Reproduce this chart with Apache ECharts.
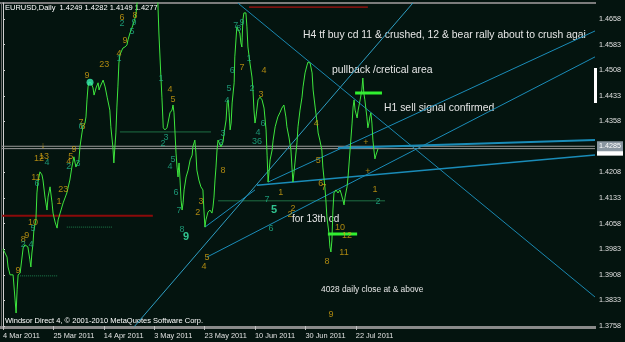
<!DOCTYPE html>
<html><head><meta charset="utf-8">
<script src="https://cdn.jsdelivr.net/npm/echarts@6/dist/echarts.min.js"></script>
<style>html,body{margin:0;padding:0;background:#04140f;}#c{width:625px;height:342px;}</style>
</head><body><div id="c"></div>
<script>
// x = trading-day index counted from 4 Mar 2011, y = EURUSD price
const xTickIdx = [0, 15, 30, 45, 60, 75, 90, 105];
const xTickLabels = ['4 Mar 2011', '25 Mar 2011', '14 Apr 2011', '3 May 2011', '23 May 2011', '10 Jun 2011', '30 Jun 2011', '22 Jul 2011'];
const yTickLabels = ['1.3758', '1.3833', '1.3908', '1.3983', '1.4058', '1.4133', '1.4208', '1.4358', '1.4433', '1.4508', '1.4583', '1.4658'];
const bidPrice = 1.4285;
const askPrice = 1.4278;
const lastIdx = 176.2;

const closeLine = [[0,1.3984],[1.2,1.3960],[1.5,1.3931],[2.1,1.3908],[3.0,1.3908],[3.6,1.3834],[3.9,1.3796],[4.2,1.3864],[4.5,1.3908],[5.1,1.3913],[6.0,1.3987],[6.5,1.3996],[7.4,1.3990],[8.0,1.3952],[8.3,1.3931],[8.6,1.3972],[8.9,1.3996],[9.2,1.4040],[9.8,1.4069],[10.1,1.4148],[10.4,1.4180],[11.0,1.4210],[11.6,1.4201],[11.9,1.4186],[12.5,1.4136],[13.1,1.4098],[13.4,1.4136],[14.0,1.4166],[14.6,1.4119],[14.9,1.4089],[15.5,1.4063],[16.1,1.4045],[16.4,1.4069],[17.0,1.4089],[17.9,1.4119],[19.0,1.4148],[19.9,1.4186],[20.5,1.4224],[21.1,1.4254],[21.7,1.4224],[22.0,1.4224],[22.6,1.4245],[22.9,1.4283],[23.5,1.4324],[23.8,1.4342],[24.4,1.4353],[24.7,1.4371],[25.0,1.4421],[25.3,1.4459],[25.6,1.4473],[26.2,1.4471],[26.8,1.4456],[27.1,1.4435],[27.7,1.4456],[28.3,1.4471],[28.6,1.4450],[28.9,1.4459],[29.8,1.4479],[30.4,1.4459],[31.0,1.4429],[31.3,1.4427],[31.8,1.4391],[32.1,1.4342],[32.7,1.4283],[33.0,1.4236],[33.3,1.4283],[33.6,1.4324],[33.9,1.4400],[34.2,1.4459],[34.5,1.4529],[34.8,1.4553],[35.4,1.4567],[35.7,1.4573],[36.3,1.4576],[36.9,1.4582],[37.2,1.4597],[37.8,1.4617],[38.7,1.4641],[39.3,1.4661],[39.6,1.4676],[39.9,1.4705],[42.3,1.4860],[44.3,1.4930],[45.5,1.4860],[46.1,1.4705],[46.4,1.4617],[47.0,1.4488],[47.3,1.4429],[47.6,1.4362],[47.7,1.4339],[48.2,1.4333],[48.8,1.4339],[49.1,1.4353],[49.7,1.4383],[50.3,1.4391],[50.6,1.4406],[50.9,1.4383],[51.2,1.4324],[51.5,1.4265],[51.8,1.4224],[52.1,1.4195],[52.2,1.4215],[52.4,1.4236],[52.7,1.4186],[53.0,1.4127],[53.3,1.4098],[53.6,1.4119],[53.9,1.4157],[54.5,1.4195],[55.1,1.4215],[55.7,1.4245],[56.3,1.4259],[56.5,1.4283],[57.1,1.4303],[57.4,1.4268],[57.7,1.4215],[58.3,1.4186],[58.9,1.4166],[59.5,1.4157],[59.8,1.4098],[60.1,1.4048],[60.4,1.4069],[61.0,1.4092],[61.3,1.4089],[61.6,1.4098],[62.2,1.4089],[62.5,1.4107],[62.8,1.4136],[63.1,1.4186],[63.4,1.4224],[63.7,1.4274],[64.0,1.4303],[64.3,1.4298],[64.9,1.4283],[65.5,1.4298],[65.8,1.4324],[66.4,1.4362],[66.7,1.4412],[67.0,1.4421],[67.3,1.4383],[67.6,1.4333],[67.9,1.4353],[68.2,1.4412],[68.8,1.4471],[69.0,1.4547],[69.6,1.4635],[69.9,1.4632],[70.5,1.4617],[70.8,1.4588],[71.1,1.4576],[71.2,1.4605],[71.4,1.4655],[71.7,1.4676],[72.3,1.4676],[72.6,1.4635],[72.9,1.4576],[73.5,1.4529],[74.1,1.4488],[74.4,1.4450],[74.7,1.4391],[75.0,1.4353],[75.3,1.4371],[75.9,1.4421],[76.5,1.4429],[77.1,1.4421],[77.7,1.4397],[78.3,1.4333],[78.6,1.4259],[78.9,1.4180],[79.5,1.4245],[80.1,1.4274],[80.4,1.4303],[81.0,1.4342],[81.8,1.4371],[82.4,1.4383],[83.0,1.4397],[83.6,1.4406],[84.2,1.4371],[84.5,1.4342],[85.1,1.4312],[85.7,1.4274],[86.0,1.4224],[86.3,1.4180],[86.6,1.4207],[86.9,1.4236],[87.5,1.4295],[87.8,1.4342],[88.4,1.4391],[89.0,1.4429],[89.3,1.4459],[89.9,1.4500],[90.5,1.4523],[90.8,1.4532],[91.4,1.4529],[92.0,1.4500],[92.3,1.4450],[92.9,1.4400],[93.5,1.4353],[93.8,1.4324],[94.3,1.4303],[94.9,1.4274],[95.2,1.4224],[95.8,1.4166],[96.1,1.4127],[96.4,1.4078],[97.0,1.4031],[97.3,1.3990],[97.6,1.3975],[97.9,1.4010],[98.2,1.4098],[98.5,1.4148],[99.1,1.4157],[99.7,1.4148],[100.3,1.4157],[100.6,1.4148],[101.2,1.4127],[101.5,1.4113],[101.8,1.4136],[102.4,1.4166],[102.7,1.4195],[103.3,1.4274],[103.9,1.4353],[104.2,1.4400],[104.5,1.4421],[104.8,1.4391],[105.4,1.4368],[105.7,1.4391],[106.3,1.4421],[106.8,1.4450],[107.1,1.4485],[107.4,1.4441],[107.7,1.4421],[108.3,1.4371],[108.6,1.4339],[108.9,1.4353],[109.2,1.4371],[109.5,1.4383],[109.8,1.4353],[110.1,1.4303],[110.4,1.4274],[110.7,1.4248],[111.0,1.4259],[111.6,1.4277]];

// sequential count labels [day index, price, text]
const yellowCounts = [[4.5,1.3922,'9'],[6.0,1.4013,'8'],[7.1,1.4022,'9'],[8.9,1.4060,'10'],[9.8,1.4192,'11'],[10.7,1.4248,'12'],[12.2,1.4256,'13'],[11.9,1.4286,'↓'],[16.7,1.4122,'1'],[17.9,1.4157,'23'],[19.6,1.4239,'4'],[20.2,1.4254,'5'],[21.1,1.4274,'9'],[23.2,1.4356,'7'],[23.8,1.4342,'8'],[25.0,1.4491,'9'],[30.1,1.4526,'23'],[34.5,1.4558,'4'],[36.3,1.4594,'9'],[35.4,1.4661,'6'],[39.3,1.4667,'8'],[49.7,1.4450,'4'],[50.6,1.4421,'5'],[58.0,1.4092,'2'],[58.9,1.4122,'3'],[60.7,1.3960,'5'],[59.8,1.3931,'4'],[65.5,1.4215,'8'],[71.1,1.4515,'7'],[77.7,1.4506,'4'],[76.8,1.4438,'3'],[82.7,1.4148,'1'],[86.3,1.4101,'2'],[85.4,1.4084,'2'],[93.2,1.4353,'4'],[93.8,1.4242,'5'],[94.6,1.4177,'6'],[95.5,1.4163,'7'],[100.3,1.4048,'10'],[102.4,1.4022,'12'],[101.5,1.3972,'11'],[96.4,1.3946,'8'],[97.6,1.3793,'9'],[110.7,1.4157,'1'],[108.0,1.4295,'+'],[108.6,1.4210,'+']];
const tealCounts = [[6.0,1.3996,'2'],[8.3,1.3996,'4'],[8.9,1.4045,'5'],[10.1,1.4177,'6'],[13.1,1.4236,'4'],[19.6,1.4227,'2'],[22.3,1.4233,'3'],[23.2,1.4342,'6'],[38.4,1.4620,'5'],[35.4,1.4644,'2'],[39.0,1.4649,'9'],[34.5,1.4541,'1'],[47.0,1.4485,'1'],[48.5,1.4312,'3'],[47.6,1.4292,'2'],[50.6,1.4245,'5'],[49.7,1.4227,'4'],[51.5,1.4148,'6'],[52.4,1.4098,'7'],[53.3,1.4040,'8'],[65.5,1.4321,'3'],[64.9,1.4295,'2'],[66.7,1.4418,'4'],[67.3,1.4453,'5'],[68.2,1.4506,'6'],[69.3,1.4638,'7'],[70.2,1.4629,'8'],[71.1,1.4649,'9'],[73.2,1.4541,'1'],[74.1,1.4453,'2'],[77.4,1.4353,'6'],[75.9,1.4324,'4'],[75.6,1.4298,'36'],[78.6,1.4130,'7'],[79.8,1.4045,'6'],[111.6,1.4122,'2']];
const tealBold = [[54.5,1.4019,'9'],[80.7,1.4098,'5']];
const tealDots = [[25.9,1.4473]];

// trend lines [start, end]
const trendDown = [[69.9,1.4705],[176.2,1.3843]];
const trendSteep = [[38.7,1.3752],[122.0,1.4705]];
const trendC = [[60.7,1.3960],[176.2,1.4547]];
const trendD = [[78.9,1.4180],[176.2,1.4623]];
const trendE = [[75.6,1.4171],[176.2,1.4259]];
const trendF = [[99.7,1.4280],[176.2,1.4303]];
const trendG = [[60.1,1.4048],[75.0,1.4157]];

// horizontal levels
const redLevel = [[-1,1.4081],[44.6,1.4081]];
const redTop = [[73.2,1.4693],[108.6,1.4693]];
const greenLevel1 = [[34.8,1.4327],[61.9,1.4327]];
const greenLevel2 = [[64.0,1.4125],[113.7,1.4125]];
const dotLevel1 = [[19.0,1.4048],[32.4,1.4048]];
const dotLevel2 = [[5.1,1.3905],[16.4,1.3905]];
const brightLevel1 = [[104.8,1.4441],[112.8,1.4441]];
const brightLevel2 = [[96.7,1.4028],[105.4,1.4028]];
const bidLine = [[-1,bidPrice],[lastIdx,bidPrice]];
const askLine = [[-1,askPrice],[lastIdx,askPrice]];

const FONT = '"Liberation Sans", Arial, sans-serif';
function seg(data, color, width, type) {
  return { type: 'line', data: data, symbol: 'none', silent: true, z: 2,
    lineStyle: { color: color, width: width, type: type || 'solid' } };
}
function counts(data, color, size, weight) {
  return { type: 'scatter', data: data, symbolSize: 0, silent: true, z: 5,
    label: { show: true, position: 'inside', formatter: p => p.data[2], color: color,
      fontSize: size || 9, fontWeight: weight || 'normal', fontFamily: FONT } };
}

const chart = echarts.init(document.getElementById('c'), null, { renderer: 'canvas' });
chart.setOption({
  animation: false,
  backgroundColor: '#04140f',
  grid: { left: 3, right: 30, top: 3, bottom: 16 },
  xAxis: {
    type: 'value', min: 0, max: lastIdx,
    axisLine: { show: false },
    splitLine: { show: false },
    axisTick: { show: true, customValues: xTickIdx, length: 4, lineStyle: { color: '#c0c0c0' } },
    axisLabel: { customValues: xTickIdx, formatter: v => xTickLabels[xTickIdx.indexOf(v)] || '',
      align: 'left', color: '#e0e0e0', fontSize: 7.4, fontFamily: FONT, margin: 6 }
  },
  yAxis: {
    type: 'value', position: 'right', min: 1.3758, max: 1.4705, scale: true,
    splitLine: { show: false },
    axisLine: { show: true, lineStyle: { color: '#d0d0d0' } },
    axisTick: { show: true, customValues: yTickLabels.map(Number), length: 2, lineStyle: { color: '#d0d0d0' } },
    axisLabel: { customValues: yTickLabels.map(Number), formatter: v => v.toFixed(4),
      color: '#e0e0e0', fontSize: 7.2, fontFamily: FONT, margin: 4 }
  },
  graphic: [
    { type: 'rect', shape: { x: 0, y: 2, width: 596, height: 2 }, style: { fill: '#7c7c7c' }, silent: true },
    { type: 'rect', shape: { x: 1, y: 2, width: 1, height: 326 }, style: { fill: '#6c6c6c' }, silent: true },
    { type: 'rect', shape: { x: 0, y: 326, width: 596, height: 3 }, style: { fill: '#8a8a8a' }, silent: true },
    { type: 'rect', shape: { x: 594, y: 68, width: 3, height: 35 }, style: { fill: '#ffffff' }, silent: true },
    { type: 'text', left: 5, top: 4, style: { text: 'EURUSD,Daily  1.4249 1.4282 1.4149 1.4277', fill: '#ffffff', font: '7.5px ' + FONT } },
    { type: 'text', left: 5, top: 317, style: { text: 'Windsor Direct 4, © 2001-2010 MetaQuotes Software Corp.', fill: '#ffffff', font: '7.5px ' + FONT } },
    { type: 'text', left: 303, top: 30, style: { text: 'H4 tf buy cd 11 & crushed, 12 & bear rally about to crush agai', fill: '#e6e6e6', font: '10.4px ' + FONT } },
    { type: 'text', left: 332, top: 65, style: { text: 'pullback /cretical area', fill: '#e6e6e6', font: '10.4px ' + FONT } },
    { type: 'text', left: 384, top: 103, style: { text: 'H1 sell signal confirmed', fill: '#e6e6e6', font: '10.4px ' + FONT } },
    { type: 'text', left: 292, top: 214, style: { text: 'for 13th cd', fill: '#e6e6e6', font: '10px ' + FONT } },
    { type: 'text', left: 321, top: 286, style: { text: '4028 daily close at & above', fill: '#e6e6e6', font: '8.4px ' + FONT } }
  ],
  series: [
    seg(redLevel, '#8b0a0a', 2),
    seg(redTop, '#d01010', 1),
    seg(greenLevel1, '#1f6f45', 1),
    seg(greenLevel2, '#1f6f45', 1),
    seg(dotLevel1, '#1f7f4f', 1, 'dotted'),
    seg(dotLevel2, '#1f7f4f', 1, 'dotted'),
    seg(bidLine, '#9a9a9a', 1),
    seg(askLine, '#9a9a9a', 1),
    seg(trendDown, '#1a88b0', 1),
    seg(trendSteep, '#2f9fc4', 1),
    seg(trendC, '#1a8cb8', 1),
    seg(trendD, '#1a8cb8', 1),
    seg(trendE, '#1a8cb8', 1.5),
    seg(trendF, '#1a8cb8', 2),
    seg(trendG, '#1a8cb8', 1),
    {
      type: 'line', data: closeLine, symbol: 'none', z: 3,
      lineStyle: { color: '#3ee63e', width: 1 },
      markPoint: {
        silent: true,
        data: [
          { coord: [lastIdx, askPrice], symbol: 'rect', symbolSize: [26, 10], symbolOffset: [15, 2],
            itemStyle: { color: '#ffffff' }, label: { show: false } },
          { coord: [lastIdx, bidPrice], symbol: 'rect', symbolSize: [26, 10], symbolOffset: [15, 0],
            itemStyle: { color: '#8996a0' },
            label: { show: true, position: 'inside', formatter: bidPrice.toFixed(4), color: '#ffffff', fontSize: 7.2, fontFamily: FONT } }
        ]
      }
    },
    seg(brightLevel1, '#30f030', 3),
    seg(brightLevel2, '#30f030', 3),
    counts(yellowCounts, '#d6a412'),
    counts(tealCounts, '#22b48c'),
    counts(tealBold, '#3cf0b0', 11, 'bold'),
    { type: 'scatter', data: tealDots, symbolSize: 7, silent: true, z: 5, itemStyle: { color: '#38f0b0' } }
  ]
});
</script>
</body></html>
